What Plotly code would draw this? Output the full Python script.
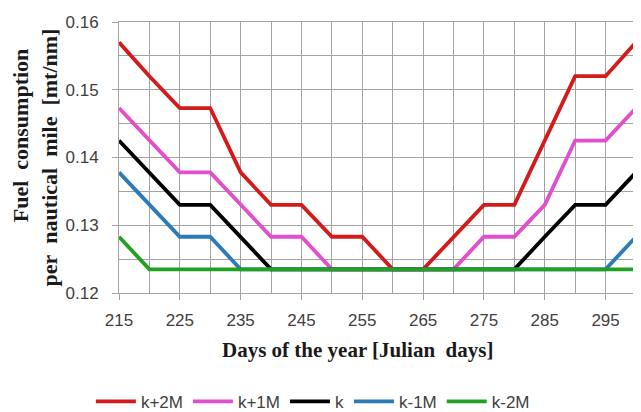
import plotly.graph_objects as go

days = [215, 220, 225, 230, 235, 240, 245, 250, 255, 260, 265, 270, 275, 280, 285, 290, 295, 300]

k_plus_2M = [0.157, 0.152, 0.1473, 0.1473, 0.1378, 0.133, 0.133, 0.1283, 0.1283, 0.1235, 0.1235, 0.1283, 0.133, 0.133, 0.1425, 0.152, 0.152, 0.157]
k_plus_1M = [0.1473, 0.1425, 0.1378, 0.1378, 0.133, 0.1283, 0.1283, 0.1235, 0.1235, 0.1235, 0.1235, 0.1235, 0.1283, 0.1283, 0.133, 0.1425, 0.1425, 0.1473]
k_base = [0.1425, 0.1378, 0.133, 0.133, 0.1283, 0.1235, 0.1235, 0.1235, 0.1235, 0.1235, 0.1235, 0.1235, 0.1235, 0.1235, 0.1283, 0.133, 0.133, 0.1378]
k_minus_1M = [0.1378, 0.133, 0.1283, 0.1283, 0.1235, 0.1235, 0.1235, 0.1235, 0.1235, 0.1235, 0.1235, 0.1235, 0.1235, 0.1235, 0.1235, 0.1235, 0.1235, 0.1283]
k_minus_2M = [0.1283, 0.1235, 0.1235, 0.1235, 0.1235, 0.1235, 0.1235, 0.1235, 0.1235, 0.1235, 0.1235, 0.1235, 0.1235, 0.1235, 0.1235, 0.1235, 0.1235, 0.1235]

series_names = ["k+2M", "k+1M", "k", "k-1M", "k-2M"]
series_values = [k_plus_2M, k_plus_1M, k_base, k_minus_1M, k_minus_2M]
series_colors = ["#D41A1A", "#E24ECB", "#000000", "#2B7BB9", "#22A022"]

fig = go.Figure()
for name, vals, col in zip(series_names, series_values, series_colors):
    fig.add_trace(go.Scatter(x=days, y=vals, mode="lines", name=name,
                             line=dict(color=col, width=3.8)))

grid = "#A3A3A3"
serif = "Liberation Serif, Times New Roman, serif"
nb = "\u00a0"
fig.update_layout(
    width=633, height=404,
    margin=dict(l=111, r=5, t=14, b=119),
    paper_bgcolor="white", plot_bgcolor="white",
    font=dict(family="Liberation Sans, Arial, sans-serif", size=17, color="#404040"),
    legend=dict(orientation="h", x=0.375, xanchor="center",
                yref="container", y=0.025, yanchor="middle",
                font=dict(size=17, color="#404040"), itemwidth=40),
    showlegend=True,
)
fig.add_annotation(
    text="<b>Days of the year [Julian" + nb + " days]</b>",
    xref="paper", yref="paper", x=0.462, y=-0.21, xanchor="center", yanchor="middle",
    showarrow=False, font=dict(family=serif, size=21, color="#1a1a1a"),
)
fig.update_xaxes(
    range=[215, 300], tick0=215, dtick=10, ticks="outside", ticklen=6, tickcolor=grid,
    ticklabelstandoff=6, automargin=False,
    showgrid=True, gridcolor=grid, gridwidth=1,
    minor=dict(dtick=5, tick0=215, showgrid=True, gridcolor=grid, gridwidth=1),
    showline=True, linecolor=grid, mirror=True, zeroline=False,
    tickfont=dict(size=17, color="#404040"),
)
fig.update_yaxes(
    range=[0.12, 0.16], dtick=0.01, tickformat=".2f", ticks="outside", ticklen=6, tickcolor=grid,
    ticklabelstandoff=10, automargin=False,
    showgrid=True, gridcolor=grid, gridwidth=1,
    minor=dict(dtick=0.005, showgrid=True, gridcolor=grid, gridwidth=1),
    showline=True, linecolor=grid, mirror=True, zeroline=False,
    tickfont=dict(size=17, color="#404040"),
    title=dict(text="<b>" + nb * 8 + "Fuel" + nb + " consumption<br>per" + nb + " nautical" + nb + " mile" + nb + " [mt/nm]</b>",
               font=dict(family=serif, size=22, color="#1a1a1a"),
               standoff=2),
)

fig.write_html("out.html")
